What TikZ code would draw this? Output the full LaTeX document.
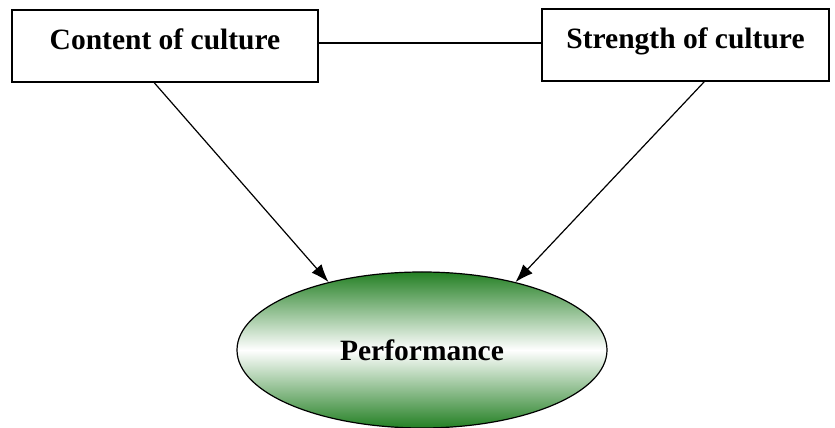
\documentclass[tikz,border=0pt]{standalone}
\usepackage{fontspec}
\setmainfont{Liberation Serif}
\usetikzlibrary{shapes.geometric,arrows.meta}
\definecolor{perfgreen}{RGB}{36,128,36}
\begin{document}
\begin{tikzpicture}[x=1pt,y=1pt,
  box/.style={draw,line width=1.5pt,minimum width=306pt,minimum height=72pt,inner sep=0pt,
    text height=20pt,text depth=12pt,font=\fontsize{29.5}{34}\selectfont\bfseries},
  perf/.style={draw,ellipse,line width=1.2pt,minimum width=370pt,minimum height=156pt,inner sep=0pt,
    top color=perfgreen,bottom color=perfgreen,middle color=white,
    font=\fontsize{29.5}{34}\selectfont\bfseries},
  conn/.style={line width=1.2pt},
  arr/.style={line width=1.2pt,-{Latex[length=18pt,width=13pt]}}]
\useasboundingbox (0,0) rectangle (835,428);
\node[box] (c) at (165,382) {Content of culture};
\node[box,minimum width=287pt] (s) at (685.5,383) {Strength of culture};
\node[perf] (p) at (422,78) {Performance};
\draw[conn] ([yshift=3pt]c.east) -- ([yshift=2pt]s.west);
\draw[arr] ([xshift=143pt]c.south west) -- (p.144);
\draw[arr] ([xshift=163pt]s.south west) -- (p.36);
\end{tikzpicture}
\end{document}
